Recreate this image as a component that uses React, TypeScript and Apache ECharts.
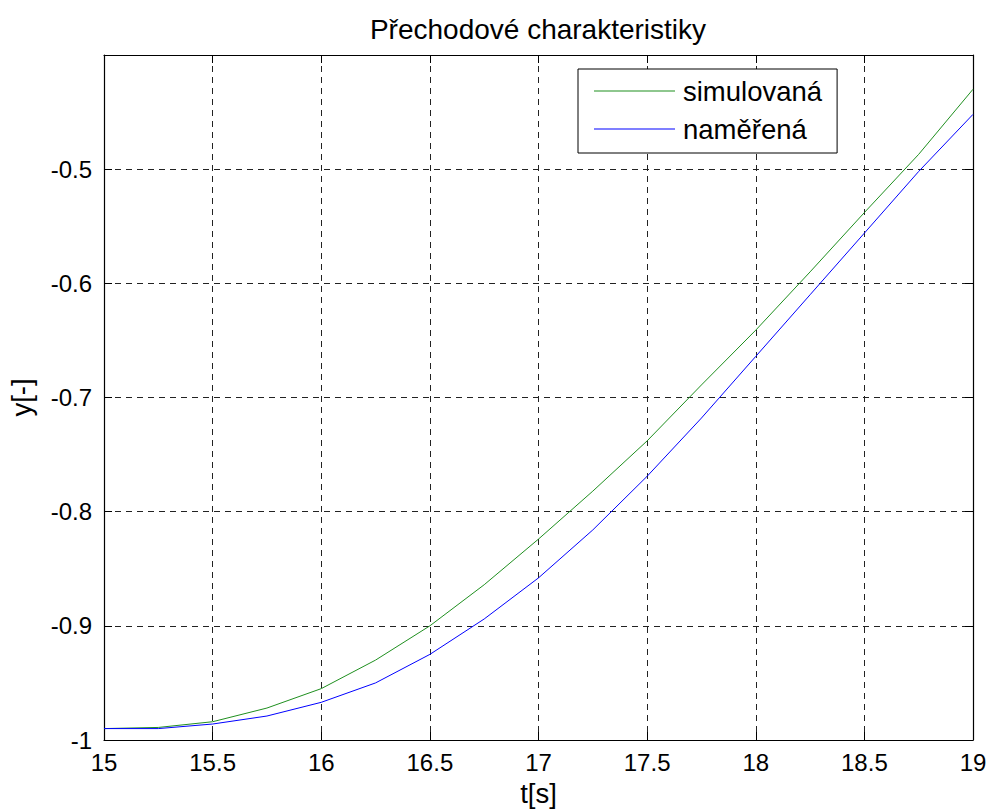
import React, { useEffect, useRef } from "react";
import * as echarts from "echarts";

const times = [15, 15.25, 15.5, 15.75, 16, 16.25, 16.5, 16.75, 17, 17.25, 17.5, 17.75, 18, 18.25, 18.5, 18.75, 19];
const simulovana = [-0.990, -0.989, -0.984, -0.972, -0.955, -0.930, -0.900, -0.864, -0.824, -0.782, -0.738, -0.689, -0.641, -0.590, -0.538, -0.487, -0.430];
const namerena = [-0.990, -0.990, -0.986, -0.979, -0.967, -0.950, -0.925, -0.894, -0.858, -0.816, -0.769, -0.718, -0.664, -0.610, -0.556, -0.502, -0.452];
const titleText = "Přechodové charakteristiky";
const xName = "t[s]";
const yName = "y[-]";
const seriesNames = ["simulovaná", "naměřená"];

const FONT = "Liberation Sans, Arial, Helvetica, sans-serif";

export default function App() {
  const ref = useRef<HTMLDivElement>(null);
  useEffect(() => {
    if (!ref.current) return;
    const chart = echarts.init(ref.current, undefined, { renderer: "svg" });
    const gridLine = { show: true, lineStyle: { color: "#222", type: [6, 5] as any, width: 1 } };
    const axisLine = { show: true, onZero: false, lineStyle: { color: "#000", width: 1.2 } };
    const tick = { show: true, inside: true, length: 8, lineStyle: { color: "#000" } };
    chart.setOption({
      animation: false,
      backgroundColor: "#fff",
      graphic: [
        {
          type: "text",
          x: 538,
          y: 29,
          style: {
            text: titleText,
            font: `28px ${FONT}`,
            fill: "#000",
            textAlign: "center",
            textVerticalAlign: "middle",
          },
        },
      ],
      grid: { left: 104, right: 17, top: 55, bottom: 69, containLabel: false, outerBoundsMode: "none" },
      legend: {
        orient: "vertical",
        left: 578,
        top: 69,
        data: seriesNames,
        icon: "rect",
        backgroundColor: "#fff",
        borderColor: "#000",
        borderWidth: 1,
        borderRadius: 0,
        padding: [8, 15, 10, 16],
        itemWidth: 81,
        itemHeight: 1,
        itemGap: 10,
        textStyle: { fontFamily: FONT, fontSize: 27.5, color: "#000", padding: [0, 0, 0, 3] },
      },
      xAxis: [
        {
          type: "value",
          min: 15,
          max: 19,
          interval: 0.5,
          name: xName,
          nameLocation: "middle",
          nameGap: 39,
          nameTextStyle: { fontFamily: FONT, fontSize: 27.5, color: "#000" },
          axisLine,
          axisTick: tick,
          splitLine: gridLine,
          axisLabel: { fontFamily: FONT, fontSize: 24, color: "#000", margin: 10 },
        },
        {
          type: "value",
          position: "top",
          min: 15,
          max: 19,
          interval: 0.5,
          axisLine,
          axisTick: tick,
          splitLine: { show: false },
          axisLabel: { show: false },
        },
      ],
      yAxis: [
        {
          type: "value",
          min: -1,
          max: -0.4,
          interval: 0.1,
          name: yName,
          nameLocation: "middle",
          nameGap: 69,
          nameTextStyle: { fontFamily: FONT, fontSize: 27.5, color: "#000" },
          axisLine,
          axisTick: tick,
          splitLine: gridLine,
          axisLabel: {
            fontFamily: FONT,
            fontSize: 24,
            color: "#000",
            margin: 12,
            showMaxLabel: false,
            formatter: (v: number) => {
              const r = Math.round(v * 10) / 10;
              return r === -1 ? "-1" : r.toFixed(1);
            },
          },
        },
        {
          type: "value",
          position: "right",
          min: -1,
          max: -0.4,
          interval: 0.1,
          axisLine,
          axisTick: tick,
          splitLine: { show: false },
          axisLabel: { show: false },
        },
      ],
      series: [
        {
          name: seriesNames[0],
          type: "line",
          data: times.map((t, i) => [t, simulovana[i]]),
          symbol: "none",
          lineStyle: { color: "#1f8f1f", width: 1 },
          itemStyle: { color: "#1f8f1f" },
        },
        {
          name: seriesNames[1],
          type: "line",
          data: times.map((t, i) => [t, namerena[i]]),
          symbol: "none",
          lineStyle: { color: "#0000ff", width: 1 },
          itemStyle: { color: "#0000ff" },
        },
      ],
    });
    return () => chart.dispose();
  }, []);
  return (
    <div
      ref={ref}
      style={{ position: "fixed", left: 0, top: 0, width: 990, height: 809, background: "#fff" }}
    />
  );
}
